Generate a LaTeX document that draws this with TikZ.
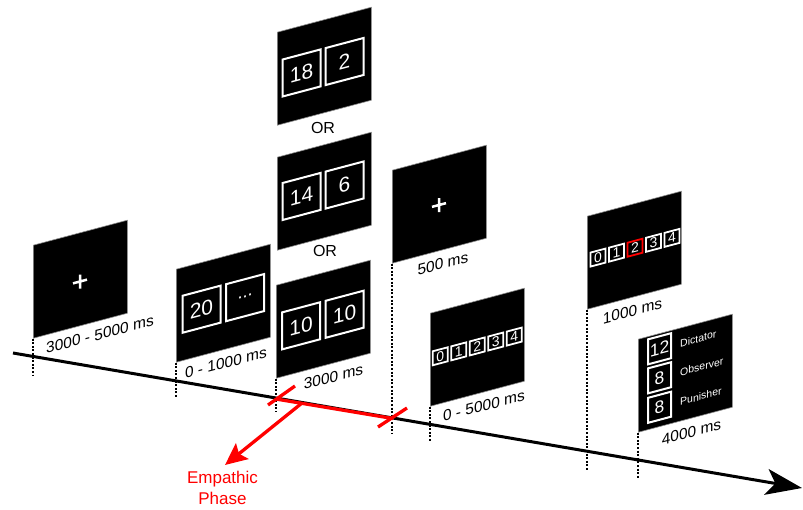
\documentclass[tikz,border=0pt]{standalone}
\usepackage{fontspec}
\setmainfont{Liberation Sans}
\usetikzlibrary{arrows.meta}
\definecolor{markred}{RGB}{255,0,0}
\tikzset{
  panel/.style={draw=black!45, line width=0.6pt, fill=black, minimum width=94pt, minimum height=93pt, inner sep=0pt, anchor=north west},
  bigbox/.style={draw=white, line width=2pt, minimum width=38pt, minimum height=37pt, inner sep=0pt, text=white, font=\fontsize{21}{24}\selectfont},
  numbox/.style={draw=white, line width=1.8pt, minimum width=15pt, minimum height=14pt, inner sep=0pt, text=white, font=\fontsize{14}{15}\selectfont},
  rolebox/.style={draw=white, line width=2pt, minimum width=23pt, minimum height=25pt, inner sep=0pt, text=white, font=\fontsize{17.5}{18}\selectfont},
  rolelabel/.style={text=white, font=\fontsize{10.5}{11}\selectfont, anchor=west, inner sep=0pt},
  durlabel/.style={font=\fontsize{15.5}{17}\selectfont, inner sep=0pt},
  orlabel/.style={font=\fontsize{16}{18}\selectfont, inner sep=0pt},
  crossmark/.style={draw=white, line width=2.5pt},
  dropline/.style={draw=black, dash pattern=on 2pt off 1.6pt, line width=2.6pt},
  timeline/.style={draw=black, line width=3pt, -{Stealth[length=36pt,width=26pt,inset=9pt]}},
  redmark/.style={draw=markred, line width=3.3pt},
  redarrow/.style={draw=markred, line width=3.3pt, -{Stealth[length=22pt,width=20pt,inset=4pt]}},
  emplabel/.style={text=markred, align=center, font=\fontsize{17}{21}\selectfont, inner sep=0pt}
}
\begin{document}
\begin{tikzpicture}[x=1pt,y=-1pt]
\useasboundingbox (0,0) rectangle (803,509);

% timeline
\coordinate (t0) at (13,353);
\coordinate (t1) at (802,488);
\draw[timeline] (t0) -- (t1);

% panel 1: fixation
\begin{scope}[shift={(33,245)}, yslant=0.266, transform shape]
  \node[panel] (p1) at (0,0) {};
  \draw[crossmark] (40,49) -- (54,49) (47,42) -- (47,56);
  \node[durlabel] (l1) at (67,107) {3000 - 5000 ms};
\end{scope}

% panel 2: 20 / ...
\begin{scope}[shift={(176,269)}, yslant=0.266, transform shape]
  \node[panel] (p2) at (0,0) {};
  \node[bigbox] (p2a) at (25.5,47) {20};
  \node[bigbox] (p2b) at (69,47) {};
  \node[text=white, font=\fontsize{18}{20}\selectfont, inner sep=0pt, anchor=base] (p2dots) at (69,47) {...};
  \node[durlabel] (l2) at (50,107) {0 - 1000 ms};
\end{scope}

% panel 3: 10 / 10
\begin{scope}[shift={(276,285)}, yslant=0.266, transform shape]
  \node[panel] (p3) at (0,0) {};
  \node[bigbox] (p3a) at (25,47.5) {10};
  \node[bigbox] (p3b) at (68.5,47.5) {10};
  \node[durlabel] (l3) at (57.5,107) {3000 ms};
\end{scope}

% panel 4: 18 / 2
\begin{scope}[shift={(277,32)}, yslant=0.266, transform shape]
  \node[panel] (p4) at (0,0) {};
  \node[bigbox] (p4a) at (24.5,47.5) {18};
  \node[bigbox] (p4b) at (67.5,47.5) {2};
\end{scope}

% panel 5: 14 / 6
\begin{scope}[shift={(277,157)}, yslant=0.266, transform shape]
  \node[panel] (p5) at (0,0) {};
  \node[bigbox] (p5a) at (24.5,46) {14};
  \node[bigbox] (p5b) at (67.5,46) {6};
\end{scope}

\node[orlabel] (or1) at (323,128) {OR};
\node[orlabel] (or2) at (325,251) {OR};

% panel 6: fixation 500 ms
\begin{scope}[shift={(392,170)}, yslant=0.266, transform shape]
  \node[panel] (p6) at (0,0) {};
  \draw[crossmark] (40,47.5) -- (54,47.5) (47,40.5) -- (47,54.5);
  \node[durlabel] (l6) at (51,107) {500 ms};
\end{scope}

% panel 7: 0..4 choice
\begin{scope}[shift={(430,313)}, yslant=0.266, transform shape]
  \node[panel] (p7) at (0,0) {};
  \foreach \i in {0,...,4}
    \node[numbox] (p7n\i) at ({10.25+18.5*\i},46) {\i};
  \node[durlabel] (l7) at (54,107) {0 - 5000 ms};
\end{scope}

% panel 8: chosen 2
\begin{scope}[shift={(587,216)}, yslant=0.266, transform shape]
  \node[panel] (p8) at (0,0) {};
  \foreach \i/\c in {0/white,1/white,2/markred,3/white,4/white}
    \node[numbox, draw=\c] (p8n\i) at ({11+18.5*\i},44.5) {\i};
  \node[durlabel] (l8) at (45.5,107) {1000 ms};
\end{scope}

% panel 9: outcome
\begin{scope}[shift={(638,339)}, yslant=0.266, transform shape]
  \node[panel] (p9) at (0,0) {};
  \node[rolebox] (p9a) at (21.5,15.5) {12};
  \node[rolebox] (p9b) at (21.5,44.5) {8};
  \node[rolebox] (p9c) at (21.5,74) {8};
  \node[rolelabel] (p9la) at (42,15.5) {Dictator};
  \node[rolelabel] (p9lb) at (42,44.5) {Observer};
  \node[rolelabel] (p9lc) at (42,74) {Punisher};
  \node[durlabel] (l9) at (53.5,107) {4000 ms};
\end{scope}

% dotted drop lines
\coordinate (d1) at (33,376);
\coordinate (d2) at (176,398);
\coordinate (d3) at (276,412);
\coordinate (d6) at (392,433);
\coordinate (d7) at (430,441);
\coordinate (d8) at (587,470);
\coordinate (d9) at (638,478);
\draw[dropline] (p1.south west) -- (d1);
\draw[dropline] (p2.south west) -- (d2);
\draw[dropline] (p3.south west) -- (d3);
\draw[dropline] (p6.south west) -- (d6);
\draw[dropline] (p7.south west) -- (d7);
\draw[dropline] (p8.south west) -- (d8);
\draw[dropline] (p9.south west) -- (d9);

% empathic phase marks
\coordinate (lt1) at (268,405);
\coordinate (lt2) at (295,386);
\coordinate (rt1) at (378,427);
\coordinate (rt2) at (407,408);
\coordinate (rl1) at (276,399);
\coordinate (rl2) at (393,418.5);
\draw[redmark] (rl1) -- (rl2);
\draw[redmark] (lt1) -- (lt2);
\draw[redmark] (rt1) -- (rt2);
\coordinate (es) at (302,403);
\coordinate (etip) at (225,465);
\draw[redarrow] (es) -- (etip);
\node[emplabel] (emp) at (222.5,488) {Empathic\\Phase};
\end{tikzpicture}
\end{document}
